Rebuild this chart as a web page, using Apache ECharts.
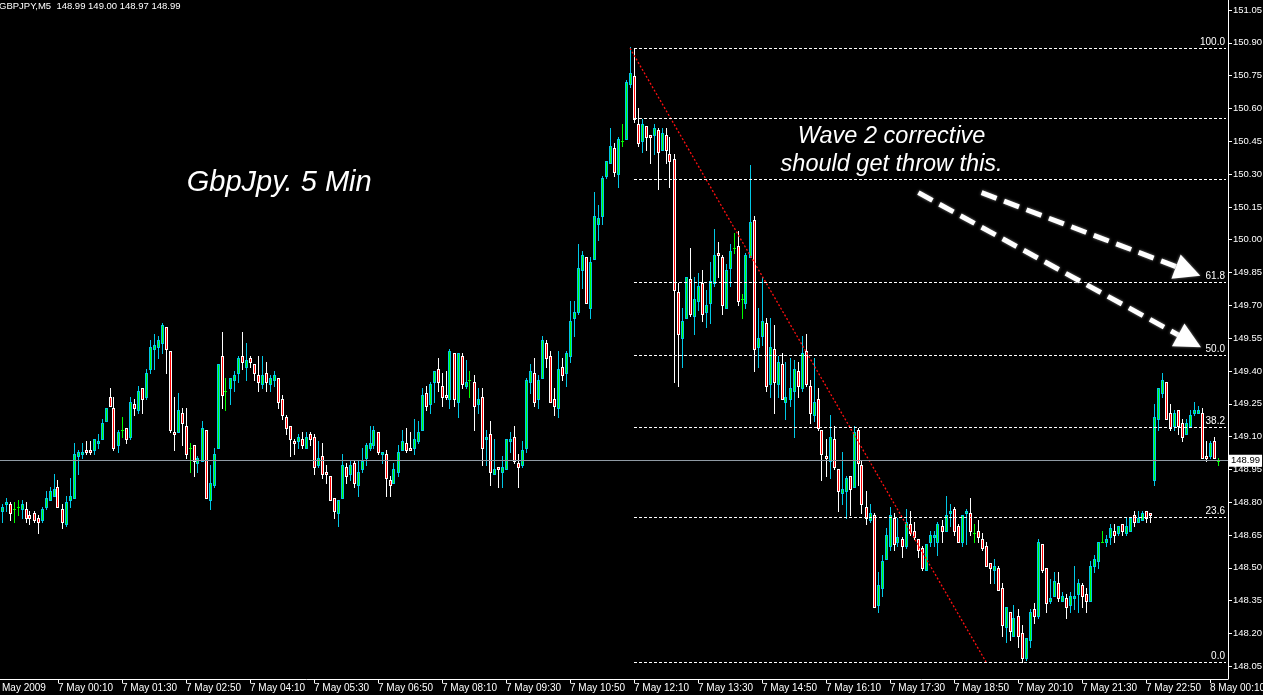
<!DOCTYPE html>
<html><head><meta charset="utf-8">
<script src="https://cdn.jsdelivr.net/npm/echarts@6/dist/echarts.min.js"></script>
<style>html,body{margin:0;padding:0;background:#000;overflow:hidden}#c{width:1263px;height:695px}</style>
</head><body><div id="c"></div>
<script>
// ---- data (GBPJPY M5) ----
const openP = [
148.76,148.79,148.79,148.77,148.78,148.77,148.77,148.74,148.75,148.73,
148.72,148.78,148.81,148.83,148.87,148.77,148.70,148.81,148.82,149.01,
149.02,149.04,149.04,149.04,149.07,149.09,149.17,149.28,149.23,149.06,
149.13,149.14,149.10,149.25,149.22,149.32,149.28,149.41,149.50,149.51,
149.53,149.60,149.49,149.12,149.12,149.21,149.15,149.05,149.06,148.98,
148.99,149.13,148.81,148.88,149.05,149.47,149.31,149.32,149.36,149.39,
149.47,149.42,149.46,149.43,149.38,149.34,149.39,149.34,149.36,149.37,
149.27,149.19,149.15,149.08,149.08,149.09,149.05,149.11,149.10,148.97,
149.01,148.94,148.92,148.82,148.75,148.82,148.96,148.93,148.98,148.88,
148.95,149.00,149.05,149.06,149.12,149.02,149.02,148.90,148.89,148.94,
149.04,149.07,149.05,149.05,149.08,149.13,149.30,149.25,149.35,149.41,
149.33,149.29,149.27,149.48,149.26,149.47,149.33,149.36,149.35,149.25,
149.28,149.09,149.11,148.93,148.96,148.94,148.95,149.08,149.10,148.98,
148.97,149.05,149.35,149.39,149.27,149.37,149.53,149.47,149.27,149.23,
149.42,149.39,149.47,149.64,149.67,149.86,149.92,149.69,149.91,150.07,
150.11,150.29,150.35,150.42,150.30,150.45,150.46,150.71,150.75,150.53,
150.45,150.52,150.48,150.48,150.50,150.41,150.48,150.39,150.37,149.76,
149.55,149.64,149.82,149.65,149.72,149.80,149.67,149.71,149.80,149.94,
149.92,149.69,149.87,149.96,149.97,149.73,149.71,149.92,150.09,149.51,
149.56,149.62,149.34,149.50,149.34,149.43,149.26,149.27,149.31,149.40,
149.32,149.49,149.33,149.20,149.27,149.13,149.01,148.99,149.09,148.95,
148.84,148.85,148.92,148.87,149.13,148.97,148.78,148.72,148.74,148.33,
148.41,148.54,148.60,148.73,148.62,148.63,148.60,148.70,148.67,148.63,
148.59,148.49,148.62,148.64,148.62,148.69,148.67,148.75,148.77,148.69,
148.62,148.75,148.75,148.66,148.67,148.63,148.60,148.52,148.49,148.50,
148.41,148.23,148.30,148.19,148.28,148.20,148.09,148.17,148.31,148.28,
148.61,148.50,148.35,148.37,148.43,148.35,148.36,148.33,148.36,148.38,
148.42,148.38,148.35,148.51,148.53,148.62,148.62,148.64,148.67,148.66,
148.70,148.66,148.67,148.74,148.71,148.72,148.76,148.75,148.90,149.18,
149.30,149.35,149.21,149.15,149.22,149.16,149.11,149.15,149.21,149.21,
149.21,149.01,149.01,149.08,148.99];
const highP = [
148.79,148.82,148.80,148.80,148.81,148.81,148.80,148.76,148.76,148.74,
148.78,148.85,148.87,148.93,148.90,148.79,148.83,148.91,149.07,149.04,
149.07,149.08,149.08,149.09,149.11,149.18,149.23,149.32,149.28,149.13,
149.19,149.14,149.28,149.27,149.33,149.32,149.41,149.54,149.57,149.56,
149.62,149.60,149.49,149.28,149.30,149.23,149.23,149.07,149.06,149.01,
149.17,149.13,148.97,149.05,149.43,149.58,149.37,149.37,149.40,149.47,
149.58,149.53,149.47,149.43,149.47,149.47,149.44,149.38,149.40,149.37,
149.29,149.20,149.15,149.09,149.11,149.12,149.12,149.12,149.11,149.08,
149.07,148.97,148.92,148.82,148.81,149.02,148.98,148.99,148.99,148.99,
149.05,149.07,149.15,149.15,149.12,149.03,149.04,148.92,148.98,149.06,
149.13,149.14,149.12,149.18,149.17,149.32,149.33,149.35,149.40,149.46,
149.39,149.40,149.50,149.48,149.48,149.48,149.45,149.40,149.38,149.32,
149.32,149.13,149.17,149.09,148.96,149.01,149.09,149.12,149.15,149.02,
149.08,149.37,149.43,149.46,149.38,149.56,149.54,149.49,149.32,149.49,
149.46,149.49,149.72,149.72,149.98,149.95,149.92,149.92,150.22,150.16,
150.29,150.36,150.51,150.44,150.47,150.53,150.73,150.88,150.87,150.60,
150.55,150.52,150.48,150.53,150.51,150.51,150.51,150.47,150.39,149.80,
149.69,149.83,149.96,149.83,149.85,149.86,149.77,149.90,150.05,149.99,
149.93,149.89,149.98,150.03,150.04,149.75,149.94,150.34,150.11,149.69,
149.83,149.64,149.64,149.61,149.47,149.48,149.44,149.46,149.45,149.44,
149.56,149.57,149.36,149.46,149.32,149.13,149.09,149.20,149.15,148.95,
149.03,148.92,148.92,149.15,149.14,148.99,148.85,148.79,148.75,148.48,
148.56,148.68,148.78,148.75,148.73,148.64,148.77,148.76,148.71,148.63,
148.60,148.61,148.67,148.67,148.71,148.72,148.83,148.79,148.78,148.70,
148.74,148.77,148.82,148.70,148.72,148.66,148.62,148.52,148.54,148.51,
148.43,148.32,148.30,148.33,148.31,148.24,148.18,148.31,148.34,148.63,
148.61,148.50,148.45,148.48,148.48,148.39,148.38,148.39,148.51,148.45,
148.43,148.41,148.53,148.56,148.62,148.67,148.65,148.70,148.70,148.69,
148.70,148.73,148.73,148.76,148.76,148.76,148.76,148.75,149.25,149.32,
149.39,149.35,149.25,149.22,149.22,149.18,149.18,149.22,149.26,149.24,
149.23,149.08,149.08,149.10,149.00];
const lowP = [
148.71,148.76,148.72,148.71,148.74,148.73,148.71,148.70,148.71,148.66,
148.71,148.77,148.81,148.83,148.78,148.68,148.69,148.78,148.82,148.93,
149.00,149.02,149.02,149.02,149.05,149.09,149.17,149.24,149.04,149.03,
149.10,149.07,149.09,149.20,149.21,149.21,149.27,149.39,149.41,149.46,
149.48,149.39,149.12,149.04,149.12,149.06,149.00,148.94,148.92,148.94,
148.99,148.82,148.77,148.87,149.05,149.23,149.22,149.25,149.31,149.35,
149.41,149.36,149.42,149.36,149.31,149.32,149.31,149.31,149.33,149.23,
149.18,149.11,149.01,149.02,149.05,149.05,149.05,149.06,148.93,148.96,
148.91,148.89,148.81,148.73,148.69,148.82,148.89,148.90,148.87,148.83,
148.94,148.97,149.04,149.05,149.02,148.98,148.83,148.83,148.89,148.92,
149.04,149.03,149.04,149.02,149.07,149.13,149.22,149.21,149.26,149.31,
149.24,149.27,149.23,149.24,149.19,149.32,149.32,149.28,149.13,149.21,
148.97,148.97,148.88,148.93,148.87,148.87,148.95,149.03,148.98,148.87,
148.96,149.03,149.30,149.24,149.23,149.37,149.42,149.26,149.20,149.19,
149.36,149.33,149.44,149.56,149.66,149.78,149.71,149.64,149.91,150.00,
150.07,150.28,150.35,150.29,150.24,150.43,150.46,150.70,150.54,150.43,
150.40,150.41,150.35,150.39,150.23,150.41,150.35,150.24,149.35,149.33,
149.42,149.64,149.65,149.57,149.68,149.63,149.60,149.62,149.79,149.83,
149.66,149.69,149.79,149.94,149.70,149.64,149.69,149.92,149.40,149.42,
149.52,149.31,149.28,149.21,149.28,149.27,149.18,149.24,149.10,149.28,
149.31,149.33,149.16,149.17,149.13,148.90,148.92,148.91,148.95,148.76,
148.79,148.73,148.74,148.87,148.88,148.75,148.70,148.71,148.32,148.30,
148.37,148.54,148.58,148.58,148.60,148.55,148.59,148.65,148.63,148.55,
148.49,148.49,148.60,148.60,148.56,148.62,148.67,148.69,148.65,148.62,
148.60,148.61,148.65,148.62,148.62,148.58,148.51,148.43,148.43,148.40,
148.19,148.16,148.17,148.19,148.14,148.07,148.08,148.14,148.25,148.27,
148.48,148.30,148.34,148.37,148.35,148.35,148.27,148.30,148.31,148.30,
148.32,148.30,148.35,148.48,148.50,148.62,148.60,148.61,148.62,148.65,
148.65,148.65,148.67,148.69,148.71,148.72,148.71,148.71,148.88,149.13,
149.28,149.18,149.13,149.13,149.11,149.08,149.11,149.15,149.20,149.21,
149.00,148.99,149.00,149.00,148.97];
const closeP = [
148.78,148.80,148.75,148.77,148.78,148.79,148.73,148.73,148.72,148.71,
148.77,148.82,148.85,148.86,148.78,148.71,148.80,148.83,149.02,149.03,
149.03,149.03,149.03,149.09,149.08,149.16,149.23,149.24,149.05,149.12,
149.13,149.09,149.26,149.23,149.31,149.27,149.39,149.51,149.52,149.54,
149.61,149.50,149.13,149.11,149.22,149.16,149.02,149.05,148.99,149.00,
149.14,148.82,148.89,149.02,149.43,149.29,149.31,149.37,149.38,149.46,
149.44,149.45,149.44,149.39,149.35,149.38,149.35,149.37,149.38,149.26,
149.20,149.14,149.09,149.07,149.10,149.06,149.10,149.09,148.96,149.00,
148.93,148.93,148.81,148.76,148.81,148.97,148.92,148.97,148.89,148.94,
148.99,149.06,149.07,149.13,149.03,149.03,148.91,148.88,148.95,149.03,
149.08,149.04,149.04,149.09,149.12,149.29,149.24,149.34,149.40,149.35,
149.28,149.28,149.49,149.27,149.48,149.34,149.35,149.36,149.24,149.27,
149.05,149.10,148.94,148.95,148.95,148.96,149.09,149.09,148.99,148.96,
149.04,149.36,149.40,149.26,149.36,149.54,149.46,149.26,149.24,149.41,
149.38,149.48,149.63,149.67,149.87,149.93,149.71,149.90,150.11,150.10,
150.28,150.36,150.43,150.31,150.46,150.45,150.72,150.76,150.55,150.44,
150.53,150.47,150.47,150.51,150.40,150.49,150.41,150.36,149.77,149.57,
149.63,149.83,149.66,149.73,149.79,149.66,149.70,149.81,149.93,149.93,
149.70,149.86,149.95,149.96,149.72,149.73,149.93,150.08,149.50,149.55,
149.63,149.33,149.51,149.35,149.44,149.27,149.28,149.32,149.41,149.33,
149.48,149.34,149.21,149.26,149.14,149.02,149.00,149.10,148.96,148.85,
148.86,148.91,148.86,149.12,148.98,148.79,148.73,148.75,148.32,148.42,
148.53,148.65,148.74,148.61,148.64,148.60,148.71,148.66,148.64,148.58,
148.50,148.61,148.65,148.65,148.70,148.67,148.74,148.76,148.67,148.62,
148.74,148.76,148.67,148.66,148.64,148.59,148.51,148.50,148.51,148.40,
148.24,148.32,148.21,148.27,148.19,148.09,148.18,148.30,148.28,148.62,
148.49,148.34,148.36,148.44,148.36,148.37,148.32,148.37,148.37,148.43,
148.37,148.35,148.51,148.54,148.62,148.62,148.63,148.68,148.65,148.69,
148.67,148.69,148.73,148.71,148.73,148.75,148.73,148.74,149.19,149.32,
149.36,149.18,149.14,149.21,149.15,149.10,149.16,149.20,149.22,149.22,
149.00,149.00,149.07,149.00,148.99];

const xTickLabels = ["May 2009","7 May 00:10","7 May 01:30","7 May 02:50","7 May 04:10","7 May 05:30",
  "7 May 06:50","7 May 08:10","7 May 09:30","7 May 10:50","7 May 12:10","7 May 13:30","7 May 14:50",
  "7 May 16:10","7 May 17:30","7 May 18:50","7 May 20:10","7 May 21:30","7 May 22:50","8 May 00:10"];
const xTickBars = [0,14,30,46,62,78,94,110,126,142,158,174,190,206,222,238,254,270,286,302];
const yTicks = [148.05,148.20,148.35,148.50,148.65,148.80,148.95,149.10,149.25,149.40,149.55,
  149.70,149.85,150.00,150.15,150.30,150.45,150.60,150.75,150.90,151.05];
const fibLevels = [0, 23.6, 38.2, 50, 61.8, 78.6, 88.6, 100];
const fibLabels = ["0.0","23.6","38.2","50.0","61.8","","","100.0"];
const fibHigh = 150.875, fibLow = 148.07;
const fibHighBar = 157, fibStartBar = 158, trendEndBar = 246;
const lastPrice = 148.99;
const symbolName = "GBPJPY,M5";

// categories: 5-minute bars from 6 May 23:00 (two spare slots at the right edge)
const nCats = 307;
const cats = [];
for (let i = 0; i < nCats; i++) {
  const m = 23 * 60 + 5 * i;
  const day = 6 + Math.floor(m / 1440), mm = m % 1440;
  cats.push(day + " May " + String(Math.floor(mm / 60)).padStart(2, "0") + ":" + String(mm % 60).padStart(2, "0"));
}
const tickMap = {};
xTickBars.forEach((b, j) => tickMap[b] = xTickLabels[j]);

const AXF = '"Liberation Sans",Arial,sans-serif';
const BULL_EDGE = '#00c8e6', BULL_FILL = '#00ff00', BEAR_EDGE = '#ffffff', BEAR_FILL = '#ff0000', DOJI = '#00ff00';

const candleRows = openP.map((o, i) => [i, o, closeP[i], lowP[i], highP[i]]);

function renderCandle(params, api) {
  const i = api.value(0), o = api.value(1), c = api.value(2), l = api.value(3), h = api.value(4);
  const pO = api.coord([i, o]);
  const col = Math.floor(pO[0]);
  const yO = Math.round(pO[1]), yC = Math.round(api.coord([i, c])[1]);
  const yH = Math.round(api.coord([i, h])[1]), yL = Math.round(api.coord([i, l])[1]);
  const doji = o === c, up = c > o;
  const edge = doji ? DOJI : (up ? BULL_EDGE : BEAR_EDGE);
  const fill = up ? BULL_FILL : BEAR_FILL;
  const top = Math.min(yO, yC), bot = Math.max(yO, yC);
  const children = [
    { type: 'rect', shape: { x: col, y: yH, width: 1, height: Math.max(1, yL - yH + 1) }, style: { fill: edge } },
    { type: 'rect', shape: { x: col - 1, y: top, width: 3, height: bot - top + 1 }, style: { fill: edge } }
  ];
  if (!doji && bot - top - 1 > 0) {
    children.push({ type: 'rect', shape: { x: col, y: top + 1, width: 1, height: bot - top - 1 }, style: { fill: fill } });
  }
  return { type: 'group', children: children };
}

const fibLines = fibLevels.map((lv, j) => {
  const v = fibLow + (fibHigh - fibLow) * lv / 100;
  return [
    { coord: [cats[fibStartBar], v],
      lineStyle: { color: '#ffffff', type: [3, 2], width: 1 },
      label: { show: fibLabels[j] !== '', formatter: fibLabels[j], position: 'insideEndTop',
               color: '#ffffff', fontSize: 10, fontFamily: AXF, distance: 1 } },
    { coord: [cats[nCats - 1], v] }
  ];
});

const chart = echarts.init(document.getElementById('c'), null, { renderer: 'canvas' });
chart.setOption({
  backgroundColor: '#000000',
  animation: false,
  grid: { left: 0, right: 35, top: 0, bottom: 16, containLabel: false, outerBoundsMode: 'none' },
  xAxis: {
    type: 'category', data: cats, boundaryGap: true,
    axisLine: { show: true, lineStyle: { color: '#ffffff', width: 1 } },
    axisTick: { show: true, alignWithLabel: true, length: 4, interval: (i) => tickMap[i] !== undefined && i > 0,
                lineStyle: { color: '#ffffff' } },
    axisLabel: { show: true, interval: (i) => tickMap[i] !== undefined, formatter: (v, i) => tickMap[i] || '',
                 align: 'left', margin: 4, color: '#ffffff', fontSize: 10, fontFamily: AXF },
    splitLine: { show: false }
  },
  yAxis: {
    type: 'value', position: 'right', min: 147.992, max: 151.0957,
    axisLine: { show: true, lineStyle: { color: '#ffffff', width: 1 } },
    axisTick: { show: true, length: 4, customValues: yTicks, lineStyle: { color: '#ffffff' } },
    axisLabel: { show: true, customValues: yTicks, formatter: (v) => v.toFixed(2), margin: 5,
                 color: '#ffffff', fontSize: 9.5, fontFamily: AXF },
    splitLine: { show: false }
  },
  series: [
    { type: 'custom', name: 'GBPJPY', data: candleRows, encode: { x: 0, y: [1, 2, 3, 4] },
      renderItem: renderCandle, silent: true, clip: true, z: 2 },
    { type: 'line', data: [], silent: true, z: 3,
      markLine: {
        silent: true, symbol: ['none', 'none'], animation: false,
        data: [
          [ { coord: [cats[fibHighBar], fibHigh], lineStyle: { color: '#ff1010', type: [2, 2], width: 1.3 }, label: { show: false } },
            { coord: [cats[trendEndBar], fibLow] } ],
          ...fibLines,
          { yAxis: lastPrice, lineStyle: { color: '#8f9aa4', type: 'solid', width: 1 },
            label: { show: true, position: 'end', formatter: lastPrice.toFixed(2), backgroundColor: '#ffffff',
                     color: '#000000', padding: [1, 2, 1, 2], fontSize: 9.5, fontFamily: AXF, distance: 1 } }
        ]
      }
    }
  ]
});

// ---- annotations, anchored in (bar, price) space ----
const titleAt = [46.2, 150.26];
const waveAt = [[222.4, 150.473], [222.4, 150.343]];
const arrowsAt = [ [[244.9, 150.215], [299.58, 149.835]], [[229.1, 150.215], [299.75, 149.508]] ];

function toPx(a) {
  const p0 = chart.convertToPixel({ gridIndex: 0 }, [cats[0], a[1]]);
  const p1 = chart.convertToPixel({ gridIndex: 0 }, [cats[1], a[1]]);
  return [p0[0] + (p1[0] - p0[0]) * a[0], p0[1]];
}
function arrow(sa, ta) {
  const s = toPx(sa), t = toPx(ta);
  const dx = t[0] - s[0], dy = t[1] - s[1], L = Math.hypot(dx, dy), ux = dx / L, uy = dy / L;
  const hl = 26, hw = 13;
  const bx = t[0] - ux * hl, by = t[1] - uy * hl;
  const glow = { shadowBlur: 3, shadowColor: 'rgba(190,190,190,0.7)' };
  return [
    { type: 'line', z: 50, shape: { x1: s[0], y1: s[1], x2: bx + ux * 2, y2: by + uy * 2 },
      style: Object.assign({ stroke: '#ffffff', lineWidth: 5, lineDash: [16, 8] }, glow) },
    { type: 'polygon', z: 50, shape: { points: [t, [bx - uy * hw, by + ux * hw], [bx + uy * hw, by - ux * hw]] },
      style: Object.assign({ fill: '#ffffff' }, glow) }
  ];
}
const tp = toPx(titleAt), w1 = toPx(waveAt[0]), w2 = toPx(waveAt[1]);
const last = openP.length - 1;
chart.setOption({
  graphic: [
    { type: 'text', x: -1, y: 1, z: 50, style: { text: symbolName + "  " + [openP[last], highP[last], lowP[last], closeP[last]].map(v => v.toFixed(2)).join(' '),
      fill: '#ffffff', fontSize: 9.5, fontFamily: AXF, align: 'left', verticalAlign: 'top' } },
    { type: 'text', x: tp[0], y: tp[1], z: 50, style: { text: 'GbpJpy. 5 Min', fill: '#ffffff', fontSize: 29, fontStyle: 'italic',
      fontFamily: '"Liberation Sans",Arial,sans-serif', align: 'left', verticalAlign: 'middle' } },
    { type: 'text', x: w1[0], y: w1[1], z: 50, style: { text: 'Wave 2 corrective', fill: '#ffffff', fontSize: 23.5, fontStyle: 'italic',
      fontFamily: '"Liberation Sans",Arial,sans-serif', align: 'center', verticalAlign: 'middle' } },
    { type: 'text', x: w2[0], y: w2[1], z: 50, style: { text: 'should get throw this.', fill: '#ffffff', fontSize: 23.5, fontStyle: 'italic',
      fontFamily: '"Liberation Sans",Arial,sans-serif', align: 'center', verticalAlign: 'middle' } },
    ...arrow(arrowsAt[0][0], arrowsAt[0][1]),
    ...arrow(arrowsAt[1][0], arrowsAt[1][1])
  ]
});
</script>
</body></html>
